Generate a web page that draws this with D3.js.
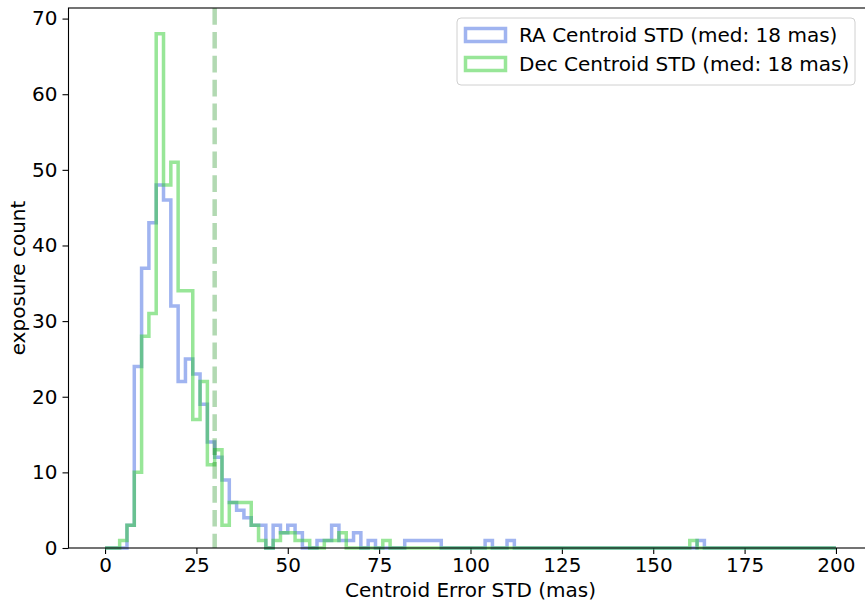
<!DOCTYPE html>
<html>
<head>
<meta charset="utf-8">
<script src="https://cdnjs.cloudflare.com/ajax/libs/d3/7.8.5/d3.min.js"></script>
<style>
  body { margin: 0; background: #fff; }
  text { font-family: "DejaVu Sans", sans-serif; fill: #000; }
</style>
</head>
<body>
<div id="chart"></div>
<script>
// histogram bins: 0..200 mas, width 2
var binStart = 0,
  binWidth = 2;

// RA centroid STD counts per bin
var raCounts = [
  0, 0, 0, 3, 24, 37, 43, 48, 46, 32,
  22, 25, 23, 19, 14, 12, 9, 6, 5, 4,
  3, 3, 0, 3, 2, 3, 2, 0, 0, 1,
  1, 3, 1, 1, 2, 0, 1, 0, 0, 0,
  0, 1, 1, 1, 1, 1, 0, 0, 0, 0,
  0, 0, 1, 0, 0, 1, 0, 0, 0, 0,
  0, 0, 0, 0, 0, 0, 0, 0, 0, 0,
  0, 0, 0, 0, 0, 0, 0, 0, 0, 0,
  0, 1, 0, 0, 0, 0, 0, 0, 0, 0,
  0, 0, 0, 0, 0, 0, 0, 0, 0, 0
];

// Dec centroid STD counts per bin
var decCounts = [
  0, 0, 1, 3, 10, 28, 31, 68, 48, 51,
  34, 34, 17, 22, 11, 13, 3, 6, 6, 6,
  3, 1, 0, 1, 2, 2, 1, 1, 0, 0,
  1, 1, 2, 0, 0, 0, 0, 0, 1, 0,
  0, 0, 0, 0, 0, 0, 0, 0, 0, 0,
  0, 0, 0, 0, 0, 0, 0, 0, 0, 0,
  0, 0, 0, 0, 0, 0, 0, 0, 0, 0,
  0, 0, 0, 0, 0, 0, 0, 0, 0, 0,
  1, 0, 0, 0, 0, 0, 0, 0, 0, 0,
  0, 0, 0, 0, 0, 0, 0, 0, 0, 0
];

var seriesNames = ["RA Centroid STD (med: 18 mas)", "Dec Centroid STD (med: 18 mas)"];
var seriesColors = ["royalblue", "limegreen"];
var thresholdValue = 30;
var xTicks = [0, 25, 50, 75, 100, 125, 150, 175, 200];
var yTicks = [0, 10, 20, 30, 40, 50, 60, 70];

// set the dimensions and margins of the graph
var W = 865,
  H = 602;
var margin = { top: 8, left: 68.5, bottom: 54 },
  plotRight = 872.5,
  plotBottom = H - margin.bottom;

var svg = d3
  .select("#chart")
  .append("svg")
  .attr("width", W)
  .attr("height", H);

var x = d3.scaleLinear().domain([-10, 210]).range([margin.left, plotRight]);
var y = d3.scaleLinear().domain([0, 71.4]).range([plotBottom, margin.top]);

// X axis
var xAxis = svg
  .append("g")
  .attr("transform", "translate(0," + plotBottom + ")")
  .call(d3.axisBottom(x).tickValues(xTicks).tickSize(6).tickPadding(4));
xAxis.select(".domain").remove();
xAxis.selectAll("text").style("font-size", "20px");
xAxis.selectAll("line").attr("stroke", "#000").attr("stroke-width", 1.1);

// Y axis
var yAxis = svg
  .append("g")
  .attr("transform", "translate(" + margin.left + ",0)")
  .call(d3.axisLeft(y).tickValues(yTicks).tickSize(6).tickPadding(5));
yAxis.select(".domain").remove();
yAxis.selectAll("text").style("font-size", "20px");
yAxis.selectAll("line").attr("stroke", "#000").attr("stroke-width", 1.1);

// step outline for one histogram
function stepPoints(counts) {
  var pts = [[binStart, 0]];
  counts.forEach(function (c, i) {
    var x0 = binStart + i * binWidth;
    pts.push([x0, c]);
    pts.push([x0 + binWidth, c]);
  });
  pts.push([binStart + counts.length * binWidth, 0]);
  return pts;
}

var line = d3
  .line()
  .x(function (d) {
    return x(d[0]);
  })
  .y(function (d) {
    return y(d[1]);
  });

[raCounts, decCounts].forEach(function (counts, k) {
  svg
    .append("path")
    .attr("d", line(stepPoints(counts)))
    .attr("fill", "none")
    .attr("stroke", seriesColors[k])
    .attr("stroke-opacity", 0.5)
    .attr("stroke-width", 3.5)
    .attr("stroke-linejoin", "miter");
});

// threshold line
svg
  .append("line")
  .attr("x1", x(thresholdValue))
  .attr("x2", x(thresholdValue))
  .attr("y1", margin.top)
  .attr("y2", plotBottom)
  .attr("stroke", "green")
  .attr("stroke-opacity", 0.3)
  .attr("stroke-width", 4.5)
  .attr("stroke-dasharray", "16.7,7.2");

// frame
svg
  .append("rect")
  .attr("x", margin.left)
  .attr("y", margin.top)
  .attr("width", plotRight - margin.left)
  .attr("height", plotBottom - margin.top)
  .attr("fill", "none")
  .attr("stroke", "#000")
  .attr("stroke-width", 1.1);

// axis labels
svg
  .append("text")
  .attr("x", (margin.left + plotRight) / 2)
  .attr("y", 597)
  .attr("text-anchor", "middle")
  .style("font-size", "20px")
  .text("Centroid Error STD (mas)");

svg
  .append("text")
  .attr("transform", "translate(25," + (margin.top + plotBottom) / 2 + ")rotate(-90)")
  .attr("text-anchor", "middle")
  .style("font-size", "20px")
  .text("exposure count");

// legend
var legend = svg.append("g").attr("transform", "translate(457,18)");
legend
  .append("rect")
  .attr("width", 398)
  .attr("height", 67)
  .attr("rx", 4)
  .attr("fill", "#fff")
  .attr("fill-opacity", 0.8)
  .attr("stroke", "#d0d0d0")
  .attr("stroke-width", 1);

seriesNames.forEach(function (name, k) {
  var g = legend.append("g").attr("transform", "translate(0," + (k * 29) + ")");
  g.append("rect")
    .attr("x", 8.5)
    .attr("y", 10.5)
    .attr("width", 40)
    .attr("height", 13)
    .attr("fill", "none")
    .attr("stroke", seriesColors[k])
    .attr("stroke-opacity", 0.5)
    .attr("stroke-width", 3.5);
  g.append("text")
    .attr("x", 62)
    .attr("y", 24)
    .style("font-size", "20px")
    .text(name);
});
</script>
</body>
</html>
